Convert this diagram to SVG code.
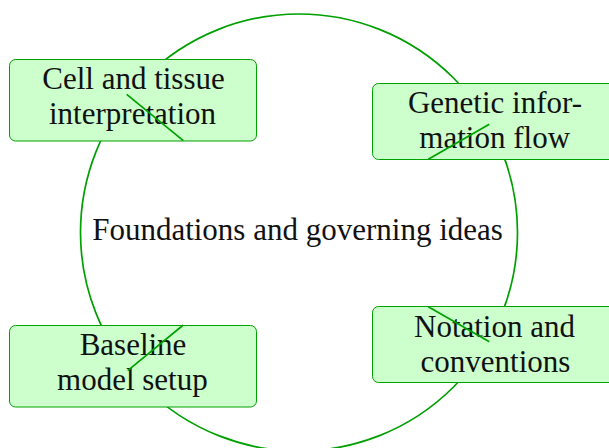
<svg xmlns="http://www.w3.org/2000/svg" width="609" height="448" viewBox="0 0 609 448">
  <style>
    .ring { fill: none; stroke: #00a000; stroke-width: 1.7; }
    .box { fill: #ccffcc; stroke: #00a000; stroke-width: 1; }
    .link { stroke: #00a000; stroke-width: 1.7; fill: none; }
    .lbl { font-size: 31px; fill: #111; text-anchor: middle; }
  </style>

  <!-- outer cycle -->
  <g id="cycle">
    <circle class="ring" cx="299" cy="232.5" r="218.5"/>
  </g>

  <!-- central title -->
  <g id="center" font-family="Liberation Serif, serif">
    <text class="lbl" x="297.5" y="240">Foundations and governing ideas</text>
  </g>

  <g id="node-cell" font-family="Liberation Serif, serif">
    <rect class="box" x="9.5" y="59.5" width="247" height="81.5" rx="6"/>
    <text class="lbl" x="133.5" y="89">Cell and tissue</text>
    <text class="lbl" x="132.5" y="123.5">interpretation</text>
  </g>

  <g id="node-genetic" font-family="Liberation Serif, serif">
    <rect class="box" x="372.5" y="83.5" width="247" height="76" rx="6"/>
    <text class="lbl" x="495" y="113.3">Genetic infor-</text>
    <text class="lbl" x="494.7" y="148.3">mation flow</text>
  </g>

  <g id="node-baseline" font-family="Liberation Serif, serif">
    <rect class="box" x="9.5" y="325.5" width="247" height="81.5" rx="6"/>
    <text class="lbl" x="133" y="355">Baseline</text>
    <text class="lbl" x="132.4" y="389.5">model setup</text>
  </g>

  <g id="node-notation" font-family="Liberation Serif, serif">
    <rect class="box" x="372.5" y="306.5" width="247" height="76" rx="6"/>
    <text class="lbl" x="494.5" y="336.7">Notation and</text>
    <text class="lbl" x="495.5" y="371.7">conventions</text>
  </g>

  <!-- connector stubs -->
  <g id="connectors">
    <line class="link" x1="126.7" y1="94.3" x2="183.3" y2="140.7"/>
    <line class="link" x1="428.3" y1="159.3" x2="489.3" y2="124.3"/>
    <line class="link" x1="127.7" y1="370.7" x2="183.3" y2="325"/>
    <line class="link" x1="428.3" y1="306.7" x2="489.3" y2="341.7"/>
  </g>
</svg>
